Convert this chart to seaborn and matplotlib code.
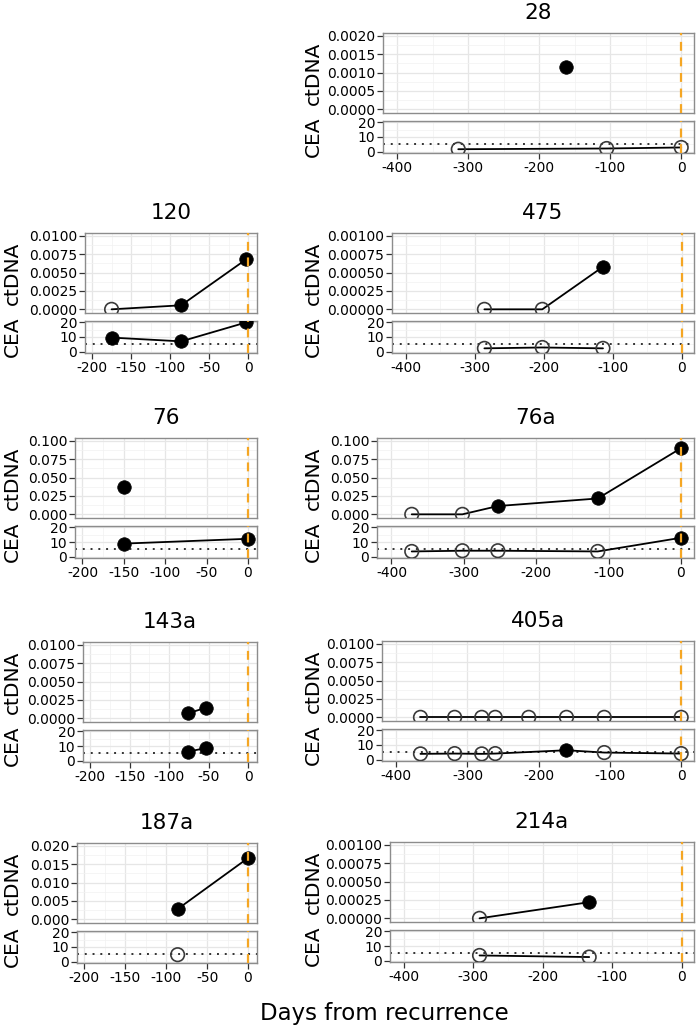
"""
ctDNA and CEA time courses per patient, two stacked panels each,
days relative to recurrence on x.
"""
import numpy as np
import pandas as pd
import matplotlib
matplotlib.use("Agg")
import matplotlib.pyplot as plt
import seaborn as sns

# patients, in reading order (left/right column, row by row)
patients = ["28", "120", "475", "76", "76a", "143a", "405a", "187a", "214a"]

# ctDNA measurements (long form)
ct_patient = ["28",
              "120", "120", "120",
              "475", "475", "475",
              "76",
              "76a", "76a", "76a", "76a", "76a",
              "143a", "143a",
              "405a", "405a", "405a", "405a", "405a", "405a", "405a", "405a",
              "187a", "187a",
              "214a", "214a"]
ct_day = [-162,
          -175, -86, -3,
          -286, -202, -114,
          -150,
          -372, -302, -253, -115, 0,
          -76, -54,
          -366, -318, -280, -261, -214, -161, -108, 0,
          -86, 0,
          -291, -133]
ct_value = [0.00115,
            0.0, 0.00055, 0.0068,
            0.0, 0.0, 0.00058,
            0.037,
            0.0, 0.0, 0.0113, 0.0216, 0.0901,
            0.00068, 0.00144,
            0.0, 0.0, 0.0, 0.0, 0.0, 0.0, 0.0, 0.0,
            0.0028, 0.0167,
            0.0, 0.00022]

# CEA measurements (long form)
cea_patient = ["28", "28", "28",
               "120", "120", "120",
               "475", "475", "475",
               "76", "76",
               "76a", "76a", "76a", "76a", "76a",
               "143a", "143a",
               "405a", "405a", "405a", "405a", "405a", "405a", "405a",
               "187a",
               "214a", "214a"]
cea_day = [-314, -105, 0,
           -175, -86, -3,
           -286, -202, -114,
           -150, 0,
           -372, -302, -253, -115, 0,
           -76, -54,
           -366, -318, -280, -261, -161, -108, 0,
           -86,
           -291, -133]
cea_value = [1.6, 2.1, 2.8,
             9.6, 7.0, 20.0,
             2.2, 2.8, 2.2,
             8.9, 12.2,
             3.5, 4.0, 4.0, 3.5, 12.9,
             6.2, 8.5,
             3.9, 4.1, 3.9, 4.1, 6.4, 4.8, 4.1,
             4.7,
             3.5, 2.4]

# top of the ctDNA scale per patient
ct_ymax = [0.002, 0.01, 0.001, 0.1, 0.1, 0.01, 0.01, 0.02, 0.001]
cea_cutoff = 5

ct = pd.DataFrame({"patient": ct_patient, "day": ct_day, "value": ct_value})
ct["pos"] = ct["value"] > 0
cea = pd.DataFrame({"patient": cea_patient, "day": cea_day, "value": cea_value})
cea["pos"] = cea["value"] > cea_cutoff

# layout in pixels: left edge of panel, top of ctDNA box
W, H = 697, 1028
layout = {"28": (383, 33), "120": (85, 233), "475": (392, 233),
          "76": (75, 438), "76a": (377, 438), "143a": (83, 642),
          "405a": (382, 641), "187a": (77, 843), "214a": (390, 842)}
right_col = {"28", "475", "76a", "405a", "214a"}
CT_H, GAP, CEA_H = 80, 8, 32

sns.set_theme(style="whitegrid")
plt.rcParams["font.family"] = ["DejaVu Sans"]
plt.rcParams["text.color"] = "black"

fig = plt.figure(figsize=(W / 100, H / 100), dpi=100)


def rect(left, right, top, h):
    return [left / W, 1 - (top + h) / H, (right - left) / W, h / H]


def style_ax(ax):
    ax.set_facecolor("white")
    for s in ax.spines.values():
        s.set_color("#8c8c8c")
        s.set_linewidth(1.0)
    ax.grid(which="major", color="#e6e6e6", lw=0.9)
    ax.grid(which="minor", color="#f2f2f2", lw=0.5)
    ax.set_axisbelow(True)
    ax.tick_params(which="major", length=4, width=0.9, color="#333333",
                   labelsize=10, labelcolor="black", pad=1.5,
                   left=True, bottom=True)
    ax.tick_params(which="minor", length=0)
    ax.set_xlabel("")
    ax.set_ylabel("")


def draw_series(ax, df):
    if len(df) > 1:
        sns.lineplot(data=df, x="day", y="value", ax=ax, color="black",
                     lw=1.3, sort=True, zorder=3)
    filled = df[df["pos"]]
    hollow = df[~df["pos"]]
    if len(hollow):
        sns.scatterplot(data=hollow, x="day", y="value", ax=ax, s=95,
                        facecolors="none", edgecolor="#3a3a3a",
                        linewidth=1.2, zorder=4)
    if len(filled):
        sns.scatterplot(data=filled, x="day", y="value", ax=ax, s=95,
                        color="black", edgecolor="black", linewidth=0.5,
                        zorder=5)


for pid, ymax in zip(patients, ct_ymax):
    left, top = layout[pid]
    is_right = pid in right_col
    right = 694 if is_right else 257
    if is_right:
        xlim, xmaj, xmin = (-420, 18), np.arange(-400, 1, 100), np.arange(-350, 1, 100)
    else:
        xlim, xmaj, xmin = (-209, 11), np.arange(-200, 1, 50), np.arange(-175, 1, 50)

    ax_ct = fig.add_axes(rect(left, right, top, CT_H))
    ax_cea = fig.add_axes(rect(left, right, top + CT_H + GAP, CEA_H))

    # ctDNA panel
    draw_series(ax_ct, ct[ct["patient"] == pid])
    step = ymax / 4
    dec = len(f"{step:.10f}".rstrip("0").split(".")[1])
    yt = np.linspace(0, ymax, 5)
    ax_ct.set_yticks(yt)
    ax_ct.set_yticklabels([f"{v:.{dec}f}" for v in yt])
    ax_ct.set_yticks(yt[:-1] + step / 2, minor=True)
    ax_ct.set_ylim(-0.05 * ymax, 1.04 * ymax)

    # CEA panel
    draw_series(ax_cea, cea[cea["patient"] == pid])
    ax_cea.axhline(cea_cutoff, color="#333333", lw=1.4, ls=(0, (1, 3)), zorder=2)
    ax_cea.set_yticks([0, 10, 20])
    ax_cea.set_yticks([5, 15], minor=True)
    ax_cea.set_ylim(-1, 21)

    for ax in (ax_ct, ax_cea):
        ax.set_xlim(*xlim)
        ax.set_xticks(xmaj)
        ax.set_xticks(xmin, minor=True)
        style_ax(ax)
        ax.axvline(0, color="#f5a623", lw=1.6, ls=(0, (4, 3)), zorder=6)
    ax_ct.tick_params(axis="x", which="major", length=0, labelbottom=False)
    ax_cea.set_xticklabels([str(int(v)) for v in xmaj])

    # titles and per-panel axis names
    cx = (left + right) / 2
    fig.text(cx / W, 1 - (top - 20) / H, pid, ha="center", va="center",
             fontsize=15.5)
    lx = 313 if is_right else 12
    fig.text(lx / W, 1 - (top + CT_H / 2) / H, "ctDNA", rotation=90,
             ha="center", va="center", fontsize=14.5)
    fig.text(lx / W, 1 - (top + CT_H + GAP + CEA_H / 2) / H, "CEA",
             rotation=90, ha="center", va="center", fontsize=14.5)

fig.text(384 / W, 1 - 1020 / H, "Days from recurrence", ha="center",
         va="baseline", fontsize=16.5)

fig.savefig("out.png", dpi=100)
